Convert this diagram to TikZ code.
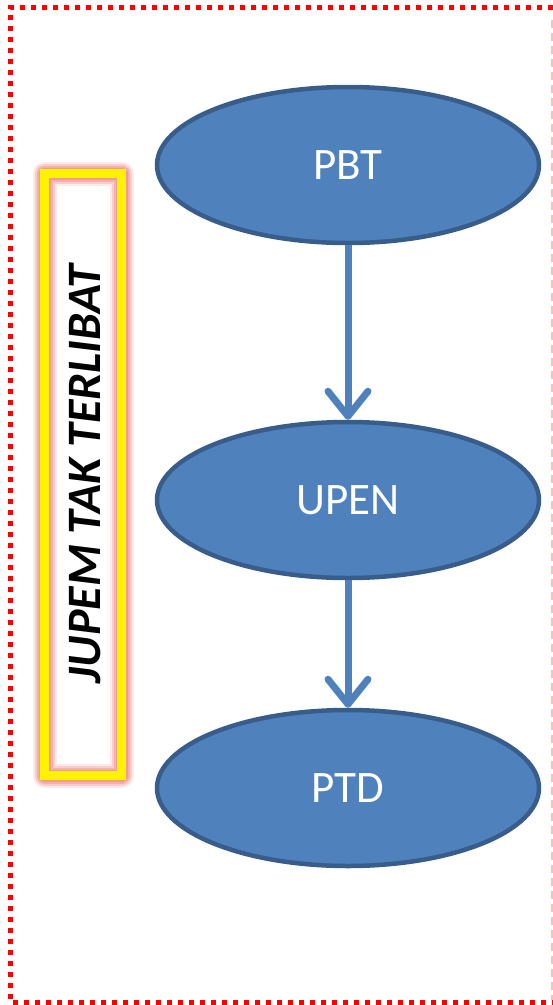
\documentclass[tikz,border=0pt]{standalone}
\usepackage{fontspec}
\setmainfont{Carlito}
\usetikzlibrary{shapes.geometric,arrows.meta}
\definecolor{nodefill}{RGB}{79,129,189}
\definecolor{nodeline}{RGB}{56,93,138}
\definecolor{glow}{RGB}{240,150,150}
\definecolor{frame}{RGB}{255,0,0}
\definecolor{faint}{RGB}{255,190,190}
\begin{document}
\begin{tikzpicture}[x=1pt,y=-1pt,
  oval/.style={ellipse,draw=nodeline,fill=nodefill,line width=4.5pt,minimum width=382pt,minimum height=156pt,inner sep=0pt,text=white,font=\fontsize{45}{45}\selectfont},
  flow/.style={draw=nodefill,line width=7pt,-{Straight Barb[length=25pt,width=40pt,line cap=round,line join=round]}},
  banner/.style={font=\fontsize{48}{48}\selectfont\bfseries\itshape,text=black}
]
\useasboundingbox (0,0) rectangle (553,1005);
% outer dotted frame
\draw[frame,line width=5pt,dash pattern=on 5pt off 6pt] (553,7.5) -- (10.5,7.5) -- (10.5,1002.5) -- (553,1002.5);
\draw[faint,line width=1.5pt,dash pattern=on 8pt off 5pt] (552.2,20) -- (552.2,1000);
% glowing yellow box
\foreach \w/\o in {24/0.2,20/0.35,16/0.55,12/0.85}{
  \draw[glow,line width=\w pt,opacity=\o,line join=round] (44.5,173.5) rectangle (121.5,775.5);
}
\draw[yellow,line width=9pt] (44.5,173.5) rectangle (121.5,775.5);
\node[banner,rotate=90] (label) at (85,474) {JUPEM TAK TERLIBAT};
% nodes
\node[oval] (pbt) at (348,165) {PBT};
\node[oval] (upen) at (348,500) {UPEN};
\node[oval] (ptd) at (348,788) {PTD};
\draw[flow] (pbt.south) -- (upen.north);
\draw[flow] (upen.south) -- (ptd.north);
\end{tikzpicture}
\end{document}
